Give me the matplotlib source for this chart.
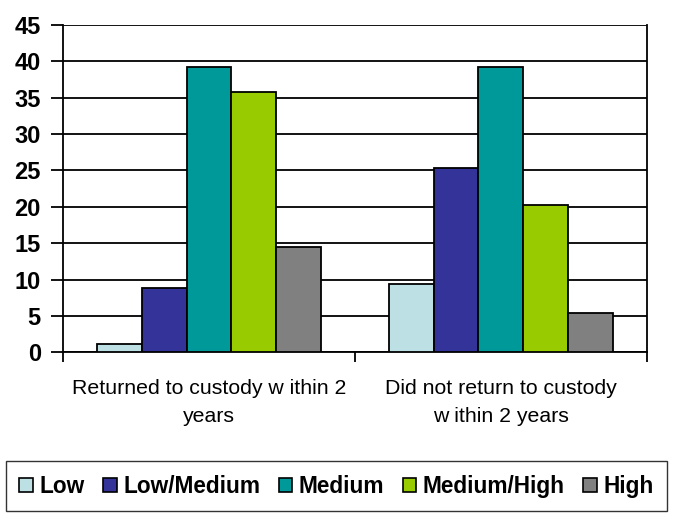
import matplotlib
matplotlib.use("Agg")
import matplotlib.pyplot as plt
import numpy as np
from matplotlib.patches import Patch

categories = ["Returned to custody w ithin 2\nyears", "Did not return to custody\nw ithin 2 years"]
series_names = ["Low", "Low/Medium", "Medium", "Medium/High", "High"]
low = [1.1, 9.4]
low_medium = [8.8, 25.4]
medium = [39.2, 39.2]
medium_high = [35.8, 20.3]
high = [14.5, 5.4]
colors = ["#BDE0E4", "#333399", "#009999", "#99CC00", "#808080"]
yticks = [0, 5, 10, 15, 20, 25, 30, 35, 40, 45]

series = [low, low_medium, medium, medium_high, high]

plt.rcParams['font.family'] = ['Liberation Sans', 'DejaVu Sans']
fig = plt.figure(figsize=(6.73, 5.13), dpi=100)
ax = fig.add_axes([0.0936, 0.3133, 0.961 - 0.0936, 0.9513 - 0.3133])

x = np.arange(len(categories))
w = 0.1537
for i, (vals, c) in enumerate(zip(series, colors)):
    ax.bar(x + (i - 2) * w, vals, width=w, color=c, edgecolor='black', linewidth=1.3, zorder=3)

ax.set_xlim(-0.5, 1.5)
ax.set_ylim(0, 45)
ax.set_yticks(yticks)
ax.set_yticklabels([str(t) for t in yticks], fontsize=17, fontweight='bold')
ax.yaxis.grid(True, color='black', linewidth=1.3, zorder=0)
ax.set_axisbelow(True)

ax.set_xticks([-0.5, 0.5, 1.5])
ax.set_xticklabels([])
ax.set_xticks(x, minor=True)
ax.set_xticklabels(categories, minor=True, fontsize=15.3, linespacing=1.6)
ax.tick_params(axis='x', which='minor', length=0, pad=19)
ax.tick_params(axis='x', which='major', length=7, width=1.3, direction='out')
ax.tick_params(axis='y', length=9, width=1.3, direction='out', pad=7)

for s in ['left', 'bottom', 'right']:
    ax.spines[s].set_linewidth(1.3)
    ax.spines[s].set_color('black')
ax.spines['top'].set_visible(False)

handles = [Patch(facecolor=c, edgecolor='black', linewidth=1.2) for c in colors]
leg = fig.legend(handles, series_names, loc='center', bbox_to_anchor=(0.5, 0.052), ncol=5,
                 prop={'family': 'Liberation Sans', 'weight': 'bold', 'size': 16.3},
                 frameon=True, fancybox=False, edgecolor='black',
                 handlelength=0.6, handleheight=0.6, handletextpad=0.3, columnspacing=0.8,
                 borderpad=0.6, borderaxespad=0)
leg.get_frame().set_linewidth(1.0)

fig.savefig("out.png", dpi=100, facecolor='white')
